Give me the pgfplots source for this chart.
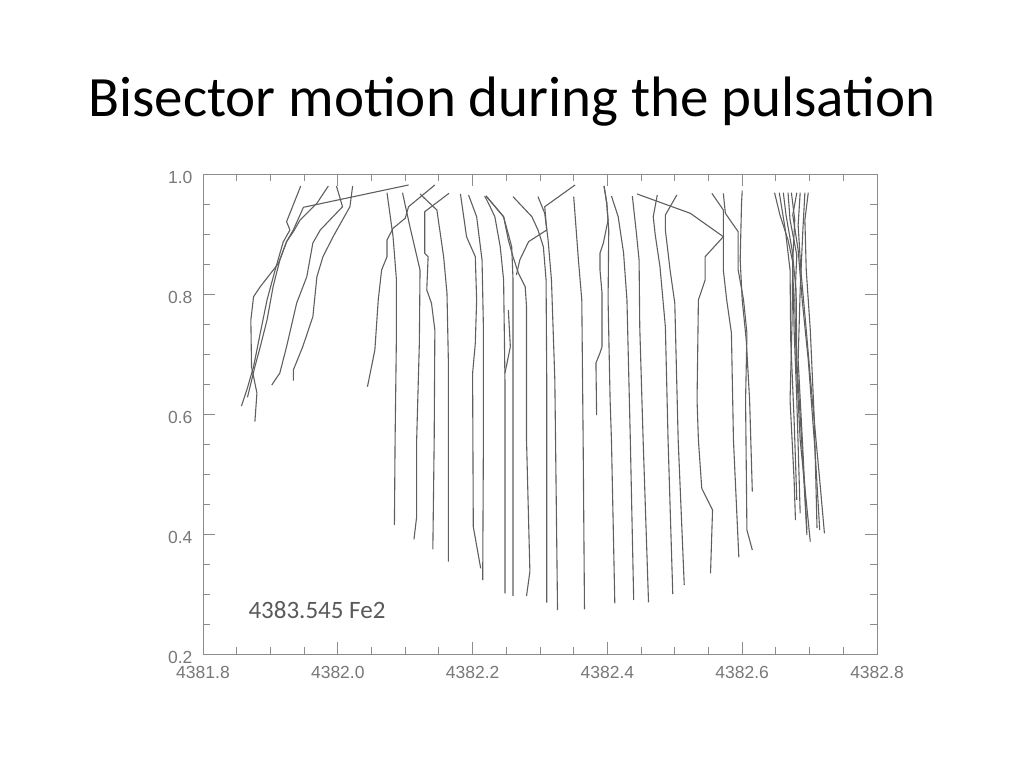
\documentclass[border=0pt]{standalone}
\usepackage{fontspec}
\setmainfont{Carlito}
\newfontfamily\tickfont{Liberation Sans}
\usepackage{pgfplots}
\pgfplotsset{compat=1.18}
\definecolor{curvegray}{RGB}{95,95,95}
\definecolor{framegray}{RGB}{140,140,140}
\definecolor{labelgray}{RGB}{120,120,120}
\definecolor{notegray}{RGB}{89,89,89}
\pgfplotsset{bis/.style={color=curvegray, line width=1.1pt, no marks, line join=round}}
\begin{document}
\begin{tikzpicture}
\path[use as bounding box] (0,0) rectangle (1024pt,768pt);
\node[anchor=base, font=\fontsize{57}{68}\selectfont] at (512pt,651pt) {Bisector motion during the pulsation};
\begin{axis}[
  at={(203pt,114pt)}, anchor=south west,
  width=674pt, height=480pt, scale only axis,
  xmin=4381.8, xmax=4382.8, ymin=0.2, ymax=1.0,
  scaled x ticks=false, scaled y ticks=false,
  xtick={4381.8,4382.0,4382.2,4382.4,4382.6,4382.8},
  xticklabels={4381.8,4382.0,4382.2,4382.4,4382.6,4382.8},
  ytick={0.2,0.4,0.6,0.8,1.0},
  yticklabels={0.2,0.4,0.6,0.8,1.0},
  minor x tick num=3, minor y tick num=3,
  tick align=inside, major tick length=12pt, minor tick length=7pt,
  axis line style={framegray, line width=0.9pt},
  every tick/.style={framegray, line width=0.9pt},
  /pgf/number format/assume math mode=true,
  ticklabel style={font=\tickfont\fontsize{17.5}{20}\selectfont, text=labelgray},
  xticklabel style={yshift=-9pt},
  yticklabel style={xshift=-7pt, yshift=-3pt},
  clip=false,
]
% left cluster
\addplot[bis] coordinates {(4381.945,0.980)(4381.924,0.9205)(4381.929,0.9067)(4381.919,0.8867)(4381.907,0.840)(4381.895,0.790)(4381.885,0.735)(4381.875,0.6788)(4381.865,0.640)(4381.857,0.6133)};
\addplot[bis] coordinates {(4381.986,0.980)(4381.969,0.9512)(4381.944,0.9233)(4381.934,0.9038)(4381.924,0.8872)(4381.912,0.8512)(4381.885,0.8122)(4381.875,0.7955)(4381.871,0.7567)(4381.872,0.6788)(4381.880,0.635)(4381.877,0.5872)};
\addplot[bis] coordinates {(4381.998,0.980)(4382.007,0.9455)(4381.974,0.9067)(4381.963,0.885)(4381.954,0.8288)(4381.939,0.785)(4381.924,0.7122)(4381.914,0.6683)(4381.902,0.6483)};
\addplot[bis] coordinates {(4382.022,0.980)(4382.018,0.9455)(4381.993,0.8955)(4381.978,0.8622)(4381.969,0.8288)(4381.963,0.7622)(4381.948,0.7122)(4381.934,0.6733)(4381.934,0.6555)};
\addplot[bis] coordinates {(4382.105,0.9817)(4381.949,0.9445)(4381.934,0.9067)(4381.924,0.8872)(4381.914,0.8567)(4381.904,0.8122)(4381.895,0.7567)(4381.885,0.7122)(4381.877,0.6788)(4381.866,0.6278)};
% middle group
\addplot[bis] coordinates {(4382.144,0.9817)(4382.105,0.9455)(4382.100,0.9262)(4382.082,0.9095)(4382.073,0.890)(4382.073,0.8622)(4382.065,0.840)(4382.060,0.790)(4382.055,0.7067)(4382.044,0.6455)};
\addplot[bis] coordinates {(4382.073,0.9688)(4382.082,0.8955)(4382.087,0.8233)(4382.087,0.735)(4382.085,0.5567)(4382.084,0.415)};
\addplot[bis] coordinates {(4382.096,0.9688)(4382.107,0.9122)(4382.122,0.840)(4382.121,0.7183)(4382.117,0.5567)(4382.117,0.4288)(4382.113,0.3912)};
\addplot[bis] coordinates {(4382.165,0.9678)(4382.129,0.9372)(4382.129,0.8678)(4382.134,0.8622)(4382.132,0.8067)(4382.139,0.7845)(4382.144,0.740)(4382.143,0.5567)(4382.141,0.3745)};
\addplot[bis] coordinates {(4382.122,0.9667)(4382.147,0.940)(4382.157,0.8622)(4382.162,0.8012)(4382.164,0.690)(4382.164,0.3538)};
\addplot[bis] coordinates {(4382.182,0.9667)(4382.191,0.8955)(4382.204,0.8622)(4382.206,0.790)(4382.204,0.7178)(4382.200,0.6678)(4382.201,0.4122)(4382.212,0.3428)};
\addplot[bis] coordinates {(4382.194,0.965)(4382.206,0.9288)(4382.214,0.8567)(4382.216,0.7455)(4382.216,0.5567)(4382.215,0.3233)};
\addplot[bis] coordinates {(4382.218,0.9633)(4382.226,0.9455)(4382.233,0.9288)(4382.241,0.8788)(4382.246,0.8233)(4382.248,0.6567)(4382.248,0.3012)};
\addplot[bis] coordinates {(4382.220,0.9633)(4382.246,0.9288)(4382.258,0.8788)(4382.260,0.8233)(4382.260,0.6567)(4382.260,0.2967)};
\addplot[bis] coordinates {(4382.220,0.9633)(4382.246,0.9288)(4382.253,0.890)(4382.260,0.8622)(4382.268,0.8345)(4382.278,0.8122)(4382.280,0.7788)(4382.280,0.5567)(4382.285,0.3372)(4382.280,0.2967)};
\addplot[bis] coordinates {(4382.253,0.7733)(4382.256,0.7122)(4382.248,0.6678)};
\addplot[bis] coordinates {(4382.352,0.9817)(4382.307,0.9455)(4382.310,0.9067)(4382.283,0.8872)(4382.270,0.8567)(4382.265,0.8317)};
\addplot[bis] coordinates {(4382.260,0.9622)(4382.288,0.9288)(4382.297,0.9067)(4382.305,0.8788)(4382.309,0.8233)(4382.310,0.6567)(4382.310,0.2855)};
\addplot[bis] coordinates {(4382.297,0.9622)(4382.307,0.9345)(4382.312,0.890)(4382.317,0.8233)(4382.322,0.6567)(4382.326,0.2733)};
\addplot[bis] coordinates {(4382.350,0.9622)(4382.357,0.8567)(4382.362,0.790)(4382.364,0.5567)(4382.366,0.2745)};
\addplot[bis] coordinates {(4382.395,0.980)(4382.399,0.9517)(4382.401,0.9233)(4382.394,0.885)(4382.389,0.8683)(4382.389,0.840)(4382.392,0.8017)(4382.392,0.7122)(4382.389,0.7017)(4382.383,0.685)(4382.384,0.5983)};
\addplot[bis] coordinates {(4382.395,0.980)(4382.399,0.9517)(4382.402,0.9067)(4382.401,0.790)(4382.404,0.6233)(4382.406,0.5567)(4382.411,0.2845)};
\addplot[bis] coordinates {(4382.406,0.9633)(4382.416,0.9288)(4382.424,0.8683)(4382.429,0.790)(4382.434,0.5567)(4382.439,0.290)};
\addplot[bis] coordinates {(4382.437,0.9633)(4382.443,0.9017)(4382.447,0.8567)(4382.448,0.7455)(4382.453,0.5567)(4382.461,0.2862)};
\addplot[bis] coordinates {(4382.474,0.965)(4382.468,0.9288)(4382.471,0.8983)(4382.478,0.8455)(4382.486,0.7455)(4382.490,0.5567)(4382.497,0.300)};
\addplot[bis] coordinates {(4382.503,0.965)(4382.486,0.9317)(4382.486,0.9067)(4382.493,0.840)(4382.500,0.7845)(4382.505,0.5567)(4382.514,0.315)};
\addplot[bis] coordinates {(4382.444,0.9667)(4382.523,0.9345)(4382.537,0.9233)(4382.572,0.8955)(4382.545,0.8622)(4382.545,0.8233)(4382.535,0.790)(4382.533,0.6233)(4382.535,0.5567)(4382.540,0.4762)(4382.556,0.440)(4382.553,0.3345)};
\addplot[bis] coordinates {(4382.555,0.9678)(4382.572,0.940)(4382.572,0.8955)(4382.572,0.840)(4382.577,0.790)(4382.584,0.735)(4382.587,0.5567)(4382.595,0.3612)};
\addplot[bis] coordinates {(4382.572,0.9678)(4382.575,0.9345)(4382.594,0.9038)(4382.594,0.840)(4382.602,0.790)(4382.607,0.735)(4382.605,0.6233)(4382.607,0.4067)(4382.615,0.3733)};
\addplot[bis] coordinates {(4382.600,0.9722)(4382.599,0.9512)(4382.597,0.8567)(4382.600,0.790)(4382.606,0.7233)(4382.611,0.6233)(4382.615,0.4705)};
% right cluster
\addplot[bis] coordinates {(4382.648,0.9688)(4382.656,0.9317)(4382.668,0.890)(4382.675,0.8533)(4382.674,0.7567)(4382.671,0.6233)(4382.677,0.490)(4382.679,0.4233)};
\addplot[bis] coordinates {(4382.661,0.9688)(4382.665,0.9317)(4382.674,0.8733)(4382.680,0.8067)(4382.681,0.690)(4382.689,0.540)(4382.696,0.3983)};
\addplot[bis] coordinates {(4382.668,0.9688)(4382.671,0.9233)(4382.681,0.8650)(4382.678,0.790)(4382.680,0.690)(4382.686,0.5567)(4382.701,0.3872)};
\addplot[bis] coordinates {(4382.673,0.9688)(4382.678,0.9233)(4382.675,0.8567)(4382.677,0.740)(4382.681,0.6233)(4382.686,0.4345)};
\addplot[bis] coordinates {(4382.681,0.9688)(4382.675,0.9317)(4382.683,0.8733)(4382.689,0.790)(4382.698,0.690)(4382.708,0.540)(4382.715,0.4067)};
\addplot[bis] coordinates {(4382.686,0.9688)(4382.683,0.9150)(4382.687,0.840)(4382.695,0.740)(4382.704,0.6233)(4382.715,0.490)(4382.722,0.4012)};
\addplot[bis] coordinates {(4382.693,0.9688)(4382.690,0.9067)(4382.686,0.8067)(4382.683,0.690)(4382.690,0.540)(4382.696,0.4067)};
\addplot[bis] coordinates {(4382.698,0.9688)(4382.693,0.9233)(4382.695,0.840)(4382.701,0.740)(4382.707,0.590)(4382.711,0.410)};
\addplot[bis] coordinates {(4382.655,0.9688)(4382.664,0.9067)(4382.671,0.840)(4382.672,0.7233)(4382.677,0.590)(4382.681,0.4567)};
\node[anchor=base west, text=notegray, font=\fontsize{25}{29}\selectfont] at (rel axis cs:0.0623,0.075) {4383.545 Fe2};
\end{axis}
\end{tikzpicture}
\end{document}
